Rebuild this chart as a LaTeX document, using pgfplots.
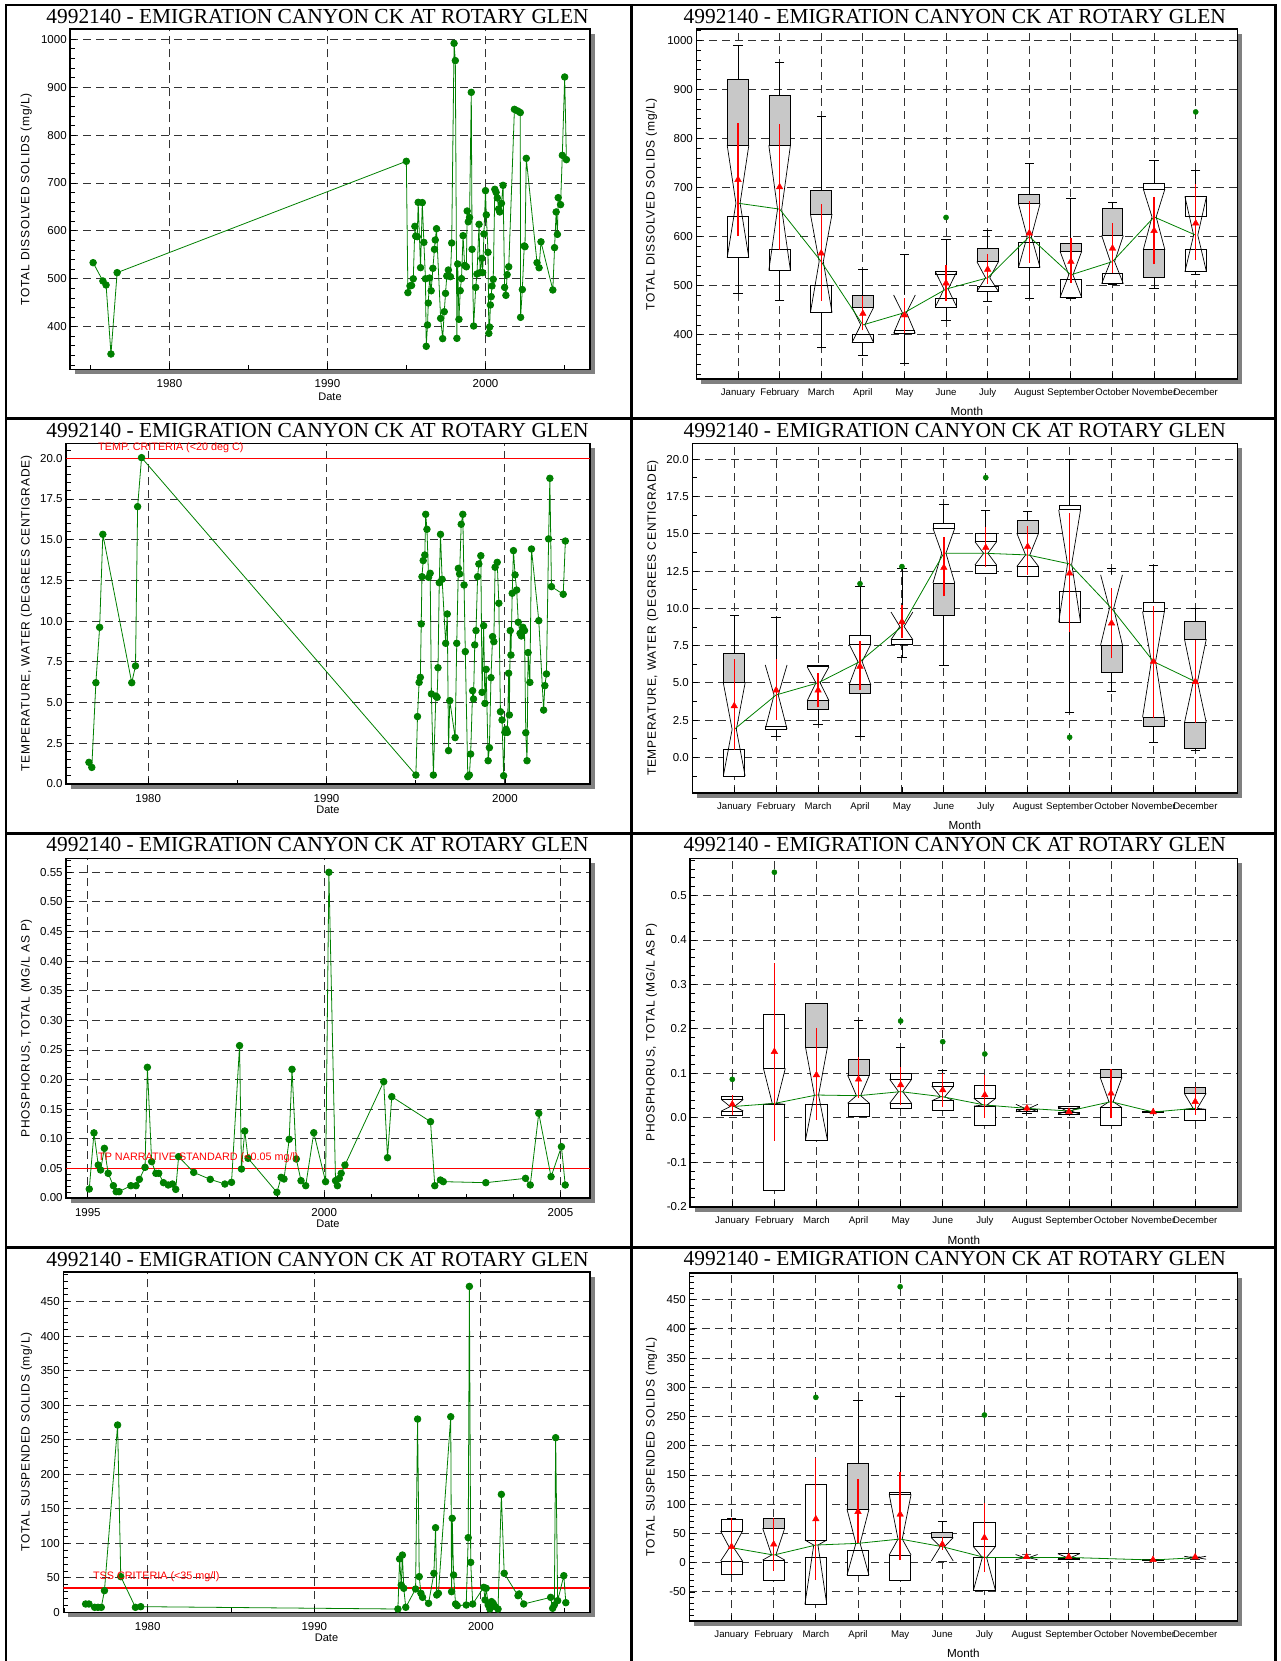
\documentclass[border=0pt]{standalone}
\usepackage{fontspec}
\setmainfont{Liberation Sans}
\newfontfamily\titlefont{Liberation Serif}
\newfontfamily\lsfont[LetterSpace=6]{Liberation Sans}
\usepackage{pgfplots}
\pgfplotsset{compat=1.18}
\usetikzlibrary{shadows}
\definecolor{dgreen}{RGB}{0,128,0}
\definecolor{boxgray}{RGB}{200,200,200}
\definecolor{critred}{RGB}{255,0,0}

\pgfplotsset{
  base/.style={
    scale only axis,
    axis line style={line width=1.6pt},
    tick style={black, line width=0.8pt},
    major tick length=6pt, minor tick length=4.5pt,
    tick align=inside,
    xtick pos=lower, ytick pos=lower,
    xmajorgrids, ymajorgrids,
    major grid style={black!80, line width=0.9pt, dash pattern=on 8pt off 5pt},
    /pgf/number format/assume math mode=true,
    /pgf/number format/1000 sep={},
    tick label style={font=\fontsize{11.5}{13}\selectfont},
    xticklabel style={yshift=-7pt, text height=8pt, text depth=2pt},
    ylabel style={font=\lsfont\fontsize{12}{14}\selectfont, anchor=center},
    xlabel style={font=\fontsize{11}{13}\selectfont, anchor=center},
    axis background/.style={fill=white, drop shadow={shadow xshift=5pt, shadow yshift=-5pt, fill=black!50, opacity=1}},
    clip mode=individual,
  },
  ts/.style={base, xtick={1980,1990,2000}, xlabel={Date}},
  tsline/.style={dgreen, line width=0.8pt, mark=*, mark size=3.3pt, mark options={solid, fill=dgreen, draw=dgreen}},
  bxp/.style={base, xmin=0, xmax=13, xtick={1,...,12},
    xticklabels={January,February,March,April,May,June,July,August,September,October,November,December},
    xticklabel style={font=\fontsize{9.6}{11}\selectfont, yshift=1pt, text height=7pt, text depth=2pt},
    xlabel={Month}, xlabel style={font=\fontsize{11.7}{13}\selectfont}},
}

\newcommand\BW{0.25}
\newcommand\NW{0.26}
\newcommand\Wk[3]{\addplot[black, line width=0.8pt, mark=-, mark size=4.7pt, mark options={solid, line width=0.8pt}] coordinates {(#1,#2) (#1,#3)};}
\newcommand\Rc[4]{\pgfmathsetmacro\ra{#1-\BW}\pgfmathsetmacro\rb{#1+\BW}%
  \edef\tmp{\noexpand\addplot[draw=black, line width=0.9pt, fill=#4] coordinates {(\ra,#2) (\rb,#2) (\rb,#3) (\ra,#3)} -- cycle;}\tmp}
\newcommand\NF[4]{\pgfmathsetmacro\na{#1-\NW}\pgfmathsetmacro\nb{#1+\NW}\pgfmathsetmacro\nc{#1-0.05}\pgfmathsetmacro\nd{#1+0.05}%
  \edef\tmp{\noexpand\addplot[draw=none, fill=white] coordinates {(\na,#2) (\nc,#3) (\na,#4) (\nb,#4) (\nd,#3) (\nb,#2)} -- cycle;}\tmp}
\newcommand\NL[4]{\pgfmathsetmacro\na{#1-\NW}\pgfmathsetmacro\nb{#1+\NW}\pgfmathsetmacro\nc{#1-0.05}\pgfmathsetmacro\nd{#1+0.05}%
  \edef\tmp{\noexpand\addplot[black, line width=0.7pt] coordinates {(\na,#2) (\nc,#3) (\na,#4)};\noexpand\addplot[black, line width=0.7pt] coordinates {(\nb,#2) (\nd,#3) (\nb,#4)};}\tmp}
\newcommand\Bx[5]{\NF{#1}{#2}{#3}{#4}#5\NL{#1}{#2}{#3}{#4}}
\newcommand\Mn[4]{\addplot[critred, line width=1.3pt] coordinates {(#1,#3) (#1,#4)};\addplot[critred, only marks, mark=triangle*, mark size=3.8pt] coordinates {(#1,#2)};}

\newcommand\ttl{4992140 - EMIGRATION CANYON CK AT ROTARY GLEN}

\begin{document}
\begin{tikzpicture}
\useasboundingbox (0pt,0pt) rectangle (1281pt,-1661pt);
\fill[white] (0pt,0pt) rectangle (1281pt,-1661pt);

% ---------------- Panel 1: TDS time series
\begin{axis}[ts, at={(70.2pt,-369.3pt)}, anchor=south west, width=519.6pt, height=340.3pt,
  xmin=1973.72, xmax=2006.6, ymin=311, ymax=1021.5,
  minor xtick={1975,1985,1995,2005},
  ytick={400,500,...,1000}, minor ytick={320,340,...,1020},
  ylabel={TOTAL DISSOLVED SOLIDS (mg/L)},
  ylabel style={at={(axis description cs:-0.0847,0.5)}},
  xlabel style={at={(axis description cs:0.5,-0.0793)}}]
\addplot[tsline] table[row sep=\\] {x y\\
1975.17 533.6\\ 1975.79 495.4\\ 1975.99 487\\ 1976.30 342.9\\ 1976.69 512.8\\
1994.99 745.3\\ 1995.09 471\\ 1995.22 485\\ 1995.32 486\\ 1995.43 500\\ 1995.53 609.5\\
1995.58 589\\ 1995.68 588\\ 1995.74 659.6\\ 1995.89 523.2\\ 1996.00 659\\ 1996.10 576\\
1996.20 500\\ 1996.25 359\\ 1996.33 403.5\\ 1996.38 449.4\\ 1996.46 501.6\\ 1996.56 475\\
1996.67 521.8\\ 1996.77 561.5\\ 1996.82 581\\ 1996.90 604.6\\ 1997.16 417.4\\ 1997.29 375\\
1997.39 431.3\\ 1997.47 469.6\\ 1997.55 505.8\\ 1997.65 518.3\\ 1997.78 504.4\\ 1997.86 574.7\\
1998.01 991.6\\ 1998.09 955.5\\ 1998.19 375.6\\ 1998.24 530.9\\ 1998.32 415.3\\ 1998.40 475.2\\
1998.48 500.3\\ 1998.58 590\\ 1998.68 528\\ 1998.79 525\\ 1998.84 641.5\\ 1998.91 619\\
1998.99 628\\ 1999.10 889.3\\ 1999.15 561.5\\ 1999.25 401.4\\ 1999.38 482\\ 1999.46 510\\
1999.59 613.7\\ 1999.66 512.8\\ 1999.77 542.7\\ 1999.82 512.8\\ 1999.90 593.6\\ 2000.00 684\\
2000.05 633.4\\ 2000.16 555.2\\ 2000.21 386\\ 2000.26 399.3\\ 2000.31 445.3\\ 2000.36 462.7\\
2000.41 485\\ 2000.49 498.9\\ 2000.59 686.8\\ 2000.67 680.5\\ 2000.75 668.7\\ 2000.83 645.7\\
2000.90 639.5\\ 2001.01 657.6\\ 2001.11 695.1\\ 2001.21 482\\ 2001.29 465.4\\ 2001.37 508.6\\
2001.47 525\\ 2001.83 853.8\\ 2002.04 850.4\\ 2002.20 847\\ 2002.22 419.5\\ 2002.33 477.5\\
2002.45 568.5\\ 2002.50 567\\ 2002.58 751.5\\ 2003.26 533.6\\ 2003.39 523\\ 2003.51 577.2\\
2004.26 476.6\\ 2004.37 565\\ 2004.47 639.5\\ 2004.55 592.8\\ 2004.60 669.4\\ 2004.75 654.8\\
2004.86 757.8\\ 2005.01 921.3\\ 2005.12 748.7\\
};
\end{axis}

% ---------------- Panel 2: TDS boxes
\begin{axis}[bxp, at={(696.4pt,-379pt)}, anchor=south west, width=540.9pt, height=349.7pt,
  ymin=309.8, ymax=1022.4,
  ytick={400,500,...,1000}, minor ytick={320,340,...,1020},
  ylabel={TOTAL DISSOLVED SOLIDS (mg/L)},
  ylabel style={at={(axis description cs:-0.0828,0.5)}},
  xlabel style={at={(axis description cs:0.5,-0.0935)}}]
\Wk{1}{485}{989}\Bx{1}{557}{668}{786}{\Rc{1}{786}{920}{boxgray}\Rc{1}{557}{642}{white}}
\Wk{2}{470}{954}\Bx{2}{531}{656}{786}{\Rc{2}{786}{887}{boxgray}\Rc{2}{531}{574}{white}}
\Wk{3}{374}{845}\Bx{3}{445}{549}{646}{\Rc{3}{646}{693}{boxgray}\Rc{3}{445}{500}{white}}
\Wk{4}{358}{533}\Bx{4}{384}{420}{456}{\Rc{4}{456}{481}{boxgray}\Rc{4}{384}{400}{white}}
\Wk{5}{342}{564}\Bx{5}{403}{445}{481}{\Rc{5}{403}{408}{white}}
\Wk{6}{430}{595}\Bx{6}{456}{493}{529}{\Rc{6}{522}{529}{white}\Rc{6}{456}{474}{white}}
\Wk{7}{468}{612}\Bx{7}{488}{516}{549}{\Rc{7}{549}{576}{boxgray}\Rc{7}{488}{498}{white}}
\Wk{8}{474}{750}\Bx{8}{537}{600}{667}{\Rc{8}{667}{686}{boxgray}\Rc{8}{537}{588}{white}}
\Wk{9}{474}{678}\Bx{9}{476}{522}{570}{\Rc{9}{570}{587}{boxgray}\Rc{9}{476}{513}{white}}
\Wk{10}{502}{669}\Bx{10}{504}{549}{602}{\Rc{10}{602}{658}{boxgray}\Rc{10}{504}{525}{white}}
\Wk{11}{495}{756}\Bx{11}{573}{640}{697}{\Rc{11}{697}{708}{white}\Rc{11}{516}{573}{boxgray}}
\Wk{12}{523}{735}\Bx{12}{528}{603}{682}{\Rc{12}{641}{682}{white}\Rc{12}{528}{574}{white}}
\addplot[dgreen, line width=0.8pt] coordinates {(1,668) (2,656) (3,549) (4,420) (5,445) (6,493) (7,516) (8,600) (9,522) (10,549) (11,640) (12,603)};
\Mn{1}{716}{601}{832}\Mn{2}{701}{572}{830}\Mn{3}{566}{469}{667}\Mn{4}{443}{409}{478}
\Mn{5}{440}{403}{475}\Mn{6}{505}{468}{542}\Mn{7}{533}{504}{564}\Mn{8}{607}{546}{673}
\Mn{9}{549}{505}{597}\Mn{10}{576}{526}{627}\Mn{11}{612}{544}{680}\Mn{12}{627}{552}{708}
\addplot[only marks, dgreen, mark=*, mark size=2.6pt] coordinates {(6,639) (12,854)};
\end{axis}

% ---------------- Panel 3: Temperature time series
\begin{axis}[ts, at={(66.1pt,-784pt)}, anchor=south west, width=523.7pt, height=340.7pt,
  xmin=1975.4, xmax=2004.76, ymin=0, ymax=20.92,
  minor xtick={1985,1995},
  ytick={0,2.5,...,20}, minor ytick={0.5,1,...,20.5},
  yticklabel style={/pgf/number format/.cd, fixed, fixed zerofill, precision=1},
  ylabel={TEMPERATURE, WATER (DEGREES CENTIGRADE)},
  ylabel style={at={(axis description cs:-0.0756,0.5)}},
  xlabel style={at={(axis description cs:0.5,-0.0763)}}]
\addplot[critred, line width=1.5pt] coordinates {(1975.4,20) (2004.76,20)};
\addplot[tsline] table[row sep=\\] {x y\\
1976.68 1.33\\ 1976.84 1.02\\ 1977.07 6.22\\ 1977.28 9.62\\ 1977.46 15.33\\ 1979.08 6.22\\
1979.29 7.25\\ 1979.41 17.03\\ 1979.63 20.04\\ 1995.01 0.55\\ 1995.10 4.14\\ 1995.19 6.24\\
1995.26 6.55\\ 1995.31 9.83\\ 1995.35 12.73\\ 1995.42 13.72\\ 1995.51 14.06\\ 1995.56 16.56\\
1995.63 15.64\\ 1995.72 12.69\\ 1995.81 12.94\\ 1995.88 5.53\\ 1995.99 0.55\\ 1996.13 5.40\\
1996.20 5.32\\ 1996.25 7.14\\ 1996.32 12.36\\ 1996.39 15.33\\ 1996.48 12.57\\ 1996.68 8.64\\
1996.77 10.44\\ 1996.84 2.05\\ 1996.91 5.12\\ 1997.21 2.85\\ 1997.30 8.64\\ 1997.39 13.24\\
1997.46 12.9\\ 1997.55 15.95\\ 1997.64 16.56\\ 1997.71 12.22\\ 1997.78 8.13\\ 1997.92 0.45\\
1998.01 0.55\\ 1998.08 1.84\\ 1998.19 5.73\\ 1998.24 5.22\\ 1998.31 8.54\\ 1998.38 9.42\\
1998.47 12.73\\ 1998.54 13.51\\ 1998.65 14.02\\ 1998.72 5.63\\ 1998.81 9.72\\ 1998.88 4.95\\
1998.95 7.04\\ 1999.06 1.43\\ 1999.13 2.23\\ 1999.22 6.53\\ 1999.31 9.05\\ 1999.38 8.74\\
1999.45 13.31\\ 1999.57 13.61\\ 1999.66 11.1\\ 1999.75 4.44\\ 1999.84 3.93\\ 1999.93 0.51\\
2000.00 3.17\\ 2000.07 3.36\\ 2000.14 3.17\\ 2000.21 6.8\\ 2000.25 4.24\\ 2000.30 9.42\\
2000.34 7.92\\ 2000.41 11.71\\ 2000.48 14.33\\ 2000.57 12.84\\ 2000.66 11.91\\ 2000.75 9.93\\
2000.85 9.25\\ 2000.92 9.09\\ 2001.01 9.62\\ 2001.10 9.42\\ 2001.17 3.15\\ 2001.24 1.43\\
2001.30 8.07\\ 2001.40 6.24\\ 2001.49 14.43\\ 2001.90 10.03\\ 2002.17 4.54\\ 2002.24 6.04\\
2002.33 6.76\\ 2002.45 15.05\\ 2002.52 18.77\\ 2002.61 12.12\\ 2003.27 11.65\\ 2003.39 14.92\\
};
\node[anchor=west, text=critred, font=\fontsize{10.8}{12}\selectfont, inner sep=0pt, yshift=10.6pt] at (axis cs:1977.19,20) {TEMP. CRITERIA (<20 deg C)};
\end{axis}

% ---------------- Panel 4: Temperature boxes
\begin{axis}[bxp, at={(692.3pt,-792.7pt)}, anchor=south west, width=545pt, height=349.4pt,
  ymin=-2.37, ymax=21.07,
  ytick={0,2.5,...,20}, minor ytick={-1.25,1.25,...,21},
  yticklabel style={/pgf/number format/.cd, fixed, fixed zerofill, precision=1},
  ylabel={TEMPERATURE, WATER (DEGREES CENTIGRADE)},
  ylabel style={at={(axis description cs:-0.0725,0.5)}},
  xlabel style={at={(axis description cs:0.5,-0.0944)}}]
\Wk{1}{-1.3}{9.5}\Bx{1}{-1.25}{1.88}{5.0}{\Rc{1}{5.0}{7.0}{boxgray}\Rc{1}{-1.25}{0.5}{white}}
\Wk{2}{1.4}{9.4}\Bx{2}{1.9}{4.19}{6.2}{\Rc{2}{1.9}{2.05}{white}}
\Wk{3}{2.2}{6.2}\Bx{3}{3.8}{5.0}{6.07}{\Rc{3}{6.07}{6.2}{white}\Rc{3}{3.2}{3.8}{boxgray}}
\Wk{4}{1.4}{11.5}\Bx{4}{4.86}{6.43}{7.6}{\Rc{4}{7.6}{8.17}{white}\Rc{4}{4.3}{4.86}{boxgray}}
\Wk{5}{6.7}{12.65}\Bx{5}{7.9}{8.78}{9.75}{\Rc{5}{7.55}{7.9}{white}}
\Wk{6}{6.2}{17.0}\Bx{6}{11.7}{13.7}{15.37}{\Rc{6}{15.37}{15.7}{white}\Rc{6}{9.5}{11.7}{boxgray}}
\Wk{7}{12.35}{16.6}\Bx{7}{12.9}{13.69}{14.47}{\Rc{7}{14.47}{15.03}{white}\Rc{7}{12.35}{12.9}{white}}
\Wk{8}{12.13}{16.5}\Bx{8}{12.8}{13.58}{15.04}{\Rc{8}{15.04}{15.89}{boxgray}\Rc{8}{12.17}{12.8}{white}}
\Wk{9}{3.0}{20.0}\Bx{9}{9.07}{12.98}{16.6}{\Rc{9}{16.6}{16.92}{white}\Rc{9}{9.07}{11.12}{white}}
\Wk{10}{4.41}{12.69}\Bx{10}{7.54}{10.0}{12.24}{\Rc{10}{5.69}{7.54}{boxgray}}
\Wk{11}{0.99}{12.91}\Bx{11}{2.69}{6.43}{9.78}{\Rc{11}{9.78}{10.39}{white}\Rc{11}{2.1}{2.69}{boxgray}}
\Wk{12}{0.45}{10.0}\Bx{12}{2.33}{5.08}{7.93}{\Rc{12}{7.93}{9.11}{boxgray}\Rc{12}{0.61}{2.33}{boxgray}}
\addplot[dgreen, line width=0.8pt] coordinates {(1,1.88) (2,4.19) (3,5.0) (4,6.43) (5,8.78) (6,13.7) (7,13.69) (8,13.58) (9,12.98) (10,10.0) (11,6.43) (12,5.08)};
\Mn{1}{3.45}{0.5}{6.6}\Mn{2}{4.5}{2.5}{6.6}\Mn{3}{4.5}{3.36}{5.64}\Mn{4}{6.1}{4.5}{7.8}
\Mn{5}{9.1}{8.0}{10.2}\Mn{6}{12.73}{10.8}{14.8}\Mn{7}{14.07}{12.8}{15.48}\Mn{8}{14.14}{12.24}{15.5}
\Mn{9}{12.35}{8.44}{16.38}\Mn{10}{9.0}{6.65}{11.35}\Mn{11}{6.43}{2.62}{10.16}\Mn{12}{5.08}{2.33}{7.88}
\addplot[only marks, dgreen, mark=*, mark size=2.6pt] coordinates {(4,11.65) (5,12.8) (7,18.77) (9,1.35)};
\end{axis}

% ---------------- Panel 5: Phosphorus time series
\begin{axis}[base, at={(66.1pt,-1198pt)}, anchor=south west, width=523.7pt, height=339.7pt,
  xmin=1994.54, xmax=2005.62, ymin=0, ymax=0.5736,
  xtick={1995,2000,2005}, minor xtick={1996,1997,1998,1999,2001,2002,2003,2004},
  ytick={0,0.05,0.1,0.15,0.2,0.25,0.3,0.35,0.4,0.45,0.5,0.55},
  minor ytick={0.01,0.02,0.03,0.04,0.06,0.07,0.08,0.09,0.11,0.12,0.13,0.14,0.16,0.17,0.18,0.19,0.21,0.22,0.23,0.24,0.26,0.27,0.28,0.29,0.31,0.32,0.33,0.34,0.36,0.37,0.38,0.39,0.41,0.42,0.43,0.44,0.46,0.47,0.48,0.49,0.51,0.52,0.53,0.54,0.56,0.57},
  yticklabel style={/pgf/number format/.cd, fixed, fixed zerofill, precision=2},
  ylabel={PHOSPHORUS, TOTAL (MG/L AS P)}, xlabel={Date},
  ylabel style={at={(axis description cs:-0.0756,0.5)}},
  xlabel style={at={(axis description cs:0.5,-0.0765)}}]
\addplot[critred, line width=1.5pt] coordinates {(1994.54,0.05) (2005.62,0.05)};
\addplot[tsline] table[row sep=\\] {x y\\
1995.03 0.0152\\ 1995.13 0.110\\ 1995.22 0.0557\\ 1995.27 0.0473\\ 1995.35 0.0839\\ 1995.43 0.0417\\
1995.54 0.0208\\ 1995.60 0.0107\\ 1995.66 0.0107\\ 1995.91 0.0208\\ 1996.02 0.0208\\ 1996.09 0.0315\\
1996.21 0.0518\\ 1996.26 0.2207\\ 1996.35 0.0614\\ 1996.44 0.0417\\ 1996.50 0.0417\\ 1996.60 0.0259\\
1996.70 0.022\\ 1996.79 0.0236\\ 1996.86 0.0146\\ 1996.92 0.0698\\ 1997.24 0.0433\\ 1997.59 0.0315\\
1997.90 0.0236\\ 1998.04 0.0265\\ 1998.21 0.2573\\ 1998.25 0.049\\ 1998.32 0.1131\\ 1998.39 0.067\\
1999.00 0.0096\\ 1999.09 0.0349\\ 1999.15 0.0321\\ 1999.26 0.0991\\ 1999.32 0.2173\\ 1999.41 0.0659\\
1999.51 0.0293\\ 1999.61 0.0208\\ 1999.78 0.1103\\ 2000.03 0.0276\\ 2000.10 0.55\\ 2000.24 0.0293\\
2000.28 0.0208\\ 2000.32 0.0332\\ 2000.36 0.0417\\ 2000.44 0.0557\\ 2001.26 0.1965\\ 2001.34 0.0681\\
2001.43 0.1711\\ 2002.25 0.1289\\ 2002.34 0.0208\\ 2002.46 0.0304\\ 2002.52 0.0276\\ 2003.42 0.0259\\
2004.26 0.0332\\ 2004.36 0.022\\ 2004.54 0.143\\ 2004.80 0.036\\ 2005.02 0.0867\\ 2005.10 0.022\\
};
\node[anchor=west, text=critred, font=\fontsize{10.8}{12}\selectfont, inner sep=0pt, yshift=10.4pt] at (axis cs:1995.215,0.05) {TP NARRATIVE STANDARD (<0.05 mg/l)};
\end{axis}

% ---------------- Panel 6: Phosphorus boxes
\begin{axis}[bxp, at={(690.2pt,-1206.7pt)}, anchor=south west, width=547.1pt, height=348.4pt,
  ymin=-0.2005, ymax=0.584,
  ytick={-0.2,-0.1,0,0.1,0.2,0.3,0.4,0.5},
  minor ytick={-0.18,-0.16,-0.14,-0.12,-0.08,-0.06,-0.04,-0.02,0.02,0.04,0.06,0.08,0.12,0.14,0.16,0.18,0.22,0.24,0.26,0.28,0.32,0.34,0.36,0.38,0.42,0.44,0.46,0.48,0.52,0.54,0.56,0.58},
  yticklabel style={/pgf/number format/.cd, fixed, fixed zerofill, precision=1},
  ylabel={PHOSPHORUS, TOTAL (MG/L AS P)},
  ylabel style={at={(axis description cs:-0.0706,0.5)}},
  xlabel style={at={(axis description cs:0.5,-0.0956)}}]
\Wk{1}{0.004}{0.047}\Bx{1}{0.015}{0.025}{0.041}{\Rc{1}{0.041}{0.047}{white}\Rc{1}{0.004}{0.015}{white}}
\Wk{2}{0.021}{0.229}\Bx{2}{0.03}{0.032}{0.111}{\Rc{2}{0.111}{0.2327}{white}\Rc{2}{-0.163}{0.03}{white}}
\Wk{3}{0.031}{0.2575}\Bx{3}{-0.05}{0.051}{0.1584}{\Rc{3}{0.1584}{0.2575}{boxgray}\Rc{3}{-0.0503}{0.0308}{white}}
\Wk{4}{0.004}{0.22}\Bx{4}{0.0323}{0.0495}{0.096}{\Rc{4}{0.096}{0.13}{boxgray}\Rc{4}{0.0038}{0.0323}{white}}
\Wk{5}{0.021}{0.158}\Bx{5}{0.0323}{0.0586}{0.0863}{\Rc{5}{0.0863}{0.0998}{white}\Rc{5}{0.021}{0.0323}{white}}
\Wk{6}{0.0173}{0.106}\Bx{6}{0.038}{0.047}{0.0713}{\Rc{6}{0.0713}{0.0796}{white}\Rc{6}{0.017}{0.038}{white}}
\Wk{7}{-0.0165}{0.0623}\Bx{7}{0.026}{0.0285}{0.0435}{\Rc{7}{0.0435}{0.072}{white}\Rc{7}{-0.0165}{0.026}{white}}
\Wk{8}{0.01}{0.031}\Bx{8}{0.013}{0.021}{0.03}{\Rc{8}{0.0135}{0.019}{white}}
\Wk{9}{0.01}{0.025}\Bx{9}{0.008}{0.015}{0.025}{\Rc{9}{0.02}{0.025}{white}\Rc{9}{0.008}{0.012}{white}}
\Wk{10}{-0.0165}{0.109}\Bx{10}{0.0225}{0.036}{0.091}{\Rc{10}{0.091}{0.109}{boxgray}\Rc{10}{-0.0165}{0.0225}{white}}
\Wk{11}{0.012}{0.013}\Rc{11}{0.0113}{0.0143}{white}
\Wk{12}{-0.005}{0.068}\Bx{12}{0.0188}{0.021}{0.0548}{\Rc{12}{0.0548}{0.0683}{boxgray}\Rc{12}{-0.0053}{0.0188}{white}}
\addplot[dgreen, line width=0.8pt] coordinates {(1,0.025) (2,0.032) (3,0.051) (4,0.0495) (5,0.0586) (6,0.047) (7,0.0285) (8,0.021) (9,0.015) (10,0.036) (11,0.0128) (12,0.021)};
\Mn{1}{0.030}{0.006}{0.051}\Mn{2}{0.1486}{-0.052}{0.3476}\Mn{3}{0.096}{-0.005}{0.201}\Mn{4}{0.0863}{0.0435}{0.137}
\Mn{5}{0.0736}{0.0285}{0.115}\Mn{6}{0.0623}{0.025}{0.1}\Mn{7}{0.051}{0.0}{0.096}\Mn{8}{0.021}{0.016}{0.026}
\Mn{9}{0.0135}{0.01}{0.018}\Mn{10}{0.0548}{-0.0015}{0.109}\Mn{11}{0.0128}{0.0113}{0.0143}\Mn{12}{0.036}{0.006}{0.07}
\addplot[only marks, dgreen, mark=*, mark size=2.6pt] coordinates {(1,0.0863) (2,0.5526) (5,0.2177) (6,0.171) (7,0.1434)};
\end{axis}

% ---------------- Panel 7: TSS time series
\begin{axis}[ts, at={(63.3pt,-1612.3pt)}, anchor=south west, width=526.5pt, height=340.6pt,
  xmin=1974.93, xmax=2006.54, ymin=0, ymax=493.5,
  minor xtick={1975,1985,1995,2005},
  ytick={0,50,...,450}, minor ytick={10,20,...,490},
  ylabel={TOTAL SUSPENDED SOLIDS (mg/L)},
  ylabel style={at={(axis description cs:-0.0699,0.5)}},
  xlabel style={at={(axis description cs:0.5,-0.0746)}}]
\addplot[critred, line width=1.5pt] coordinates {(1974.93,35) (2006.54,35)};
\addplot[tsline] table[row sep=\\] {x y\\
1976.27 12.07\\ 1976.47 12.07\\ 1976.81 7.24\\ 1977.01 7.24\\ 1977.21 7.24\\ 1977.40 31.4\\
1978.19 271.4\\ 1978.38 51.7\\ 1979.26 7.24\\ 1979.58 8.2\\ 1995.02 4.8\\ 1995.12 77.3\\
1995.22 39.6\\ 1995.29 83.0\\ 1995.37 34.8\\ 1995.49 7.24\\ 1996.08 33.8\\ 1996.20 280.0\\
1996.30 51.7\\ 1996.40 27.5\\ 1996.50 21.7\\ 1996.86 13.0\\ 1997.18 56.5\\ 1997.28 122.6\\
1997.35 25.1\\ 1997.45 27.5\\ 1998.19 283.4\\ 1998.24 29.9\\ 1998.28 136.2\\ 1998.36 54.1\\
1998.48 12.07\\ 1998.58 9.66\\ 1999.12 10.6\\ 1999.24 108.2\\ 1999.31 472.2\\ 1999.39 72.4\\
1999.51 12.07\\ 2000.17 36.2\\ 2000.25 17.9\\ 2000.32 34.8\\ 2000.44 10.6\\ 2000.54 4.8\\
2000.64 15.5\\ 2000.74 13.0\\ 2000.86 8.2\\ 2001.03 4.8\\ 2001.23 170.9\\ 2001.40 56.5\\
2002.23 24.1\\ 2002.30 26.6\\ 2002.57 12.07\\ 2004.19 21.7\\ 2004.31 5.8\\ 2004.41 10.6\\
2004.49 253.0\\ 2004.61 16.9\\ 2004.98 53.1\\ 2005.10 14.0\\
};
\node[anchor=west, text=critred, font=\fontsize{10.8}{12}\selectfont, inner sep=0pt, yshift=11.4pt] at (axis cs:1976.71,35) {TSS CRITERIA (<35 mg/l)};
\end{axis}

% ---------------- Panel 8: TSS boxes
\begin{axis}[bxp, at={(689.4pt,-1621pt)}, anchor=south west, width=547.9pt, height=348.3pt,
  ymin=-99.8, ymax=496.2,
  ytick={-50,0,...,450}, minor ytick={-90,-80,...,490},
  ylabel={TOTAL SUSPENDED SOLIDS (mg/L)},
  ylabel style={at={(axis description cs:-0.069,0.5)}},
  xlabel style={at={(axis description cs:0.5,-0.0927)}}]
\Wk{1}{-20}{75.9}\Bx{1}{2.85}{25.7}{54.2}{\Rc{1}{54.2}{74.7}{white}\Rc{1}{-20}{2.85}{white}}
\Wk{2}{-12.5}{75.9}\Bx{2}{4.6}{13.1}{58.7}{\Rc{2}{58.7}{75.9}{boxgray}\Rc{2}{-29.7}{4.6}{white}}
\Wk{3}{5}{134}\Bx{3}{-71.3}{30.2}{38.8}{\Rc{3}{38.8}{134}{white}\Rc{3}{-71.3}{8.6}{white}}
\Wk{4}{-21.1}{278.3}\Bx{4}{-21.1}{33.1}{91.3}{\Rc{4}{91.3}{169.4}{boxgray}\Rc{4}{-21.1}{21.7}{white}}
\Wk{5}{-29.7}{284}\Bx{5}{13.1}{40.5}{116.9}{\Rc{5}{116.9}{120.9}{white}\Rc{5}{-29.7}{13.1}{white}}
\Wk{6}{2.85}{70.2}\Bx{6}{2.85}{27.4}{42.8}{\Rc{6}{42.8}{51.9}{boxgray}}
\Wk{7}{-46.8}{69}\Bx{7}{-46.8}{9.1}{27.4}{\Rc{7}{27.4}{69}{white}\Rc{7}{-46.8}{8.6}{white}}
\Wk{8}{7}{14}\Bx{8}{5}{8.6}{14}{}
\Wk{9}{5}{16}\Bx{9}{5}{9}{15.4}{\Rc{9}{15}{16}{white}\Rc{9}{5}{6.5}{white}}
\Wk{11}{4}{5.5}\Rc{11}{4}{5.5}{white}
\Wk{12}{6}{11}\Bx{12}{6}{8.6}{11}{}
\addplot[dgreen, line width=0.8pt] coordinates {(1,25.7) (2,13.1) (3,30.2) (4,33.1) (5,40.5) (6,27.4) (7,9.1) (8,8.6) (9,9) (11,4.6) (12,8.6)};
\Mn{1}{27.4}{-20}{75.9}\Mn{2}{31.4}{-14.3}{75.9}\Mn{3}{74.7}{-29.7}{178.5}\Mn{4}{87.3}{33.1}{143.2}
\Mn{5}{82.7}{4.6}{155.7}\Mn{6}{31.4}{21.7}{44.5}\Mn{7}{42.8}{-15.4}{101.5}\Mn{8}{10}{8}{12}
\Mn{9}{10}{8}{13}\Mn{11}{5}{4}{5.5}\Mn{12}{9.5}{8}{11}
\addplot[only marks, dgreen, mark=*, mark size=2.6pt] coordinates {(3,282.9) (5,472.2) (7,252.7)};
\end{axis}

% ---------------- Titles
\node[font=\titlefont\fontsize{21.4}{24}\selectfont] at (317.5pt,-16.3pt) {\ttl};
\node[font=\titlefont\fontsize{21.4}{24}\selectfont] at (954.8pt,-16.7pt) {\ttl};
\node[font=\titlefont\fontsize{21.4}{24}\selectfont] at (317.5pt,-430pt) {\ttl};
\node[font=\titlefont\fontsize{21.4}{24}\selectfont] at (954.8pt,-430pt) {\ttl};
\node[font=\titlefont\fontsize{21.4}{24}\selectfont] at (317.5pt,-844pt) {\ttl};
\node[font=\titlefont\fontsize{21.4}{24}\selectfont] at (954.8pt,-844.3pt) {\ttl};
\node[font=\titlefont\fontsize{21.4}{24}\selectfont] at (317.5pt,-1259pt) {\ttl};
\node[font=\titlefont\fontsize{21.4}{24}\selectfont] at (954.8pt,-1258.3pt) {\ttl};

% ---------------- Frame
\draw[line width=2.5pt] (6pt,-1661pt) -- (6pt,-5pt) -- (1275.5pt,-5pt) -- (1275.5pt,-1661pt);
\draw[line width=2.5pt] (631.5pt,-5pt) -- (631.5pt,-1661pt);
\draw[line width=2.5pt] (6pt,-418.5pt) -- (1275.5pt,-418.5pt);
\draw[line width=2.5pt] (6pt,-833.3pt) -- (1275.5pt,-833.3pt);
\draw[line width=2.5pt] (6pt,-1247.5pt) -- (1275.5pt,-1247.5pt);
\end{tikzpicture}
\end{document}
